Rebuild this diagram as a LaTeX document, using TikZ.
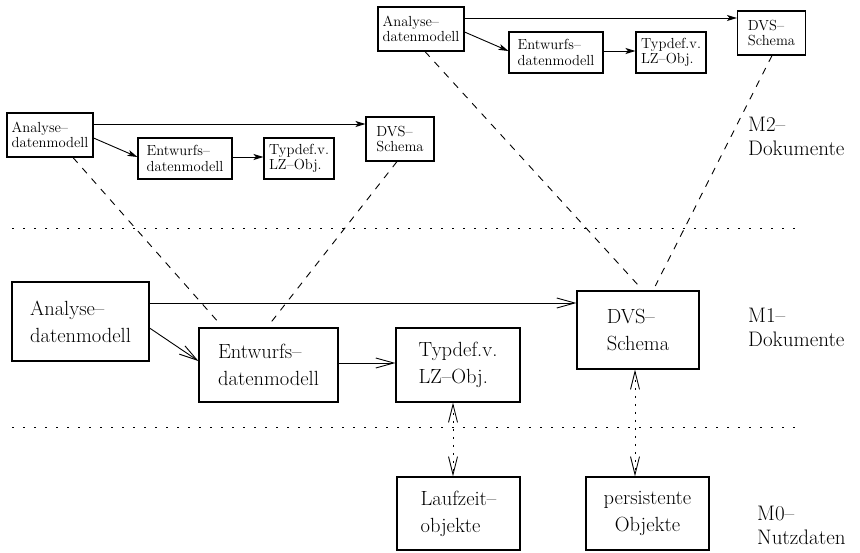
\documentclass[tikz,border=0pt]{standalone}
\usepackage{tikz}
\usetikzlibrary{arrows.meta}
\tikzset{
    %Grosse Kaesten (M1/M0)
    grossbox/.style={
           rectangle,
           draw=black, line width=1.1pt,
           inner sep=0pt,
           font=\fontsize{20.5}{27}\selectfont,
           align=left},
    %Kleine Kaesten (M2)
    kleinbox/.style={
           rectangle,
           draw=black, line width=1.1pt,
           inner sep=0pt,
           font=\fontsize{14.6}{15.5}\selectfont,
           align=left},
    % Pfeile
    pil/.style={
           -{Straight Barb[length=18pt,width=10pt]},
           line width=0.9pt},
    kpil/.style={
           -{Stealth[length=10pt,width=6pt,inset=2.5pt]},
           line width=0.9pt},
    dpil/.style={
           {Straight Barb[length=18pt,width=9pt]}-{Straight Barb[length=18pt,width=9pt]},
           dash pattern=on 2pt off 6pt,
           line width=0.9pt},
    stich/.style={
           dash pattern=on 7pt off 7pt,
           line width=0.9pt,
           shorten >=5pt},
    punkte/.style={
           dash pattern=on 2pt off 9pt,
           line width=0.9pt},
    ebene/.style={
           font=\fontsize{21}{24}\selectfont,
           align=left,
           anchor=north west,
           inner sep=0pt}
}
\begin{document}
\begin{tikzpicture}[x=1pt,y=-1pt]
\useasboundingbox (0,0) rectangle (860,552);
% M1-Ebene
\node[grossbox, minimum width=137pt, minimum height=79pt] (ana) at (80.5,321.5) {Analyse--\\datenmodell};
\node[grossbox, minimum width=139pt, minimum height=74pt] (ent) at (268.5,365) {Entwurfs--\\datenmodell};
\node[grossbox, minimum width=124pt, minimum height=74pt] (typ) at (458,365) {Typdef.v.\\LZ--Obj.};
\node[grossbox, minimum width=122pt, minimum height=78pt] (dvs) at (638,330) {DVS--\\Schema};
% M0-Ebene
\node[grossbox, minimum width=123pt, minimum height=73pt] (lzo) at (458.5,513.5) {Laufzeit--\\objekte};
\node[grossbox, align=center, minimum width=123pt, minimum height=73pt] (pers) at (647.5,513.5) {persistente\\Objekte};
% M2-Ebene, links
\node[kleinbox, minimum width=86pt, minimum height=44pt] (sana) at (50,135) {Analyse--\\datenmodell};
\node[kleinbox, minimum width=94pt, minimum height=41pt] (sent) at (185,158.5) {Entwurfs--\\datenmodell};
\node[kleinbox, minimum width=70pt, minimum height=41pt] (styp) at (299,158.5) {Typdef.v.\\LZ--Obj.};
\node[kleinbox, minimum width=68pt, minimum height=44pt] (sdvs) at (400,139) {DVS--\\Schema};
% M2-Ebene, oben
\node[kleinbox, minimum width=86pt, minimum height=44pt] (tana) at (421,29) {Analyse--\\datenmodell};
\node[kleinbox, minimum width=94pt, minimum height=41pt] (tent) at (556,52.5) {Entwurfs--\\datenmodell};
\node[kleinbox, minimum width=70pt, minimum height=41pt] (ttyp) at (671,52.5) {Typdef.v.\\LZ--Obj.};
\node[kleinbox, minimum width=68pt, minimum height=44pt] (tdvs) at (771.5,33) {DVS--\\Schema};
% Ebenen
\node[ebene] (m2) at (748,117) {M2--\\Dokumente};
\node[ebene] (m1) at (748,307.5) {M1--\\Dokumente};
\node[ebene] (m0) at (757,505.5) {M0--\\Nutzdaten};
\coordinate (g1l) at (12,228);
\coordinate (g1r) at (795,228);
\coordinate (g2l) at (12,427);
\coordinate (g2r) at (795,427);
\draw[punkte] (g1l) -- (g1r);
\draw[punkte] (g2l) -- (g2r);
% Pfeile M1
\coordinate (a1) at ([yshift=18.5pt]ana.east);
\draw[pil] (a1) -- (a1 -| dvs.west);
\draw[pil] ([yshift=-6.5pt]ana.east) -- ([yshift=4pt]ent.west);
\draw[pil] ([yshift=2pt]ent.east) -- ([yshift=2pt]typ.west);
\draw[dpil] ([xshift=-5pt]typ.south) -- ([xshift=-5.5pt]lzo.north);
\draw[dpil] ([xshift=-3pt]dvs.south) -- ([xshift=-12.5pt]pers.north);
% Pfeile M2
\coordinate (s1) at ([yshift=11pt]sana.east);
\draw[kpil] (s1) -- (s1 -| sdvs.west);
\draw[kpil] ([yshift=-3pt]sana.east) -- ([yshift=1.5pt]sent.west);
\draw[kpil] ([yshift=1.5pt]sent.east) -- ([yshift=1.5pt]styp.west);
\coordinate (t1) at ([yshift=11pt]tana.east);
\draw[kpil] (t1) -- (t1 -| tdvs.west);
\draw[kpil] ([yshift=-3pt]tana.east) -- ([yshift=1.5pt]tent.west);
\draw[kpil] ([yshift=1.5pt]tent.east) -- ([yshift=1.5pt]ttyp.west);
% Instanzbeziehungen
\draw[stich] ([xshift=23pt]sana.south) -- ([xshift=-45.5pt]ent.north);
\draw[stich] ([xshift=-3pt]sdvs.south) -- ([xshift=-1.5pt]ent.north);
\draw[stich] ([xshift=4pt]tana.south) -- ([xshift=5pt]dvs.north);
\draw[stich] ([xshift=0.5pt]tdvs.south) -- ([xshift=15pt]dvs.north);
\end{tikzpicture}
\end{document}
